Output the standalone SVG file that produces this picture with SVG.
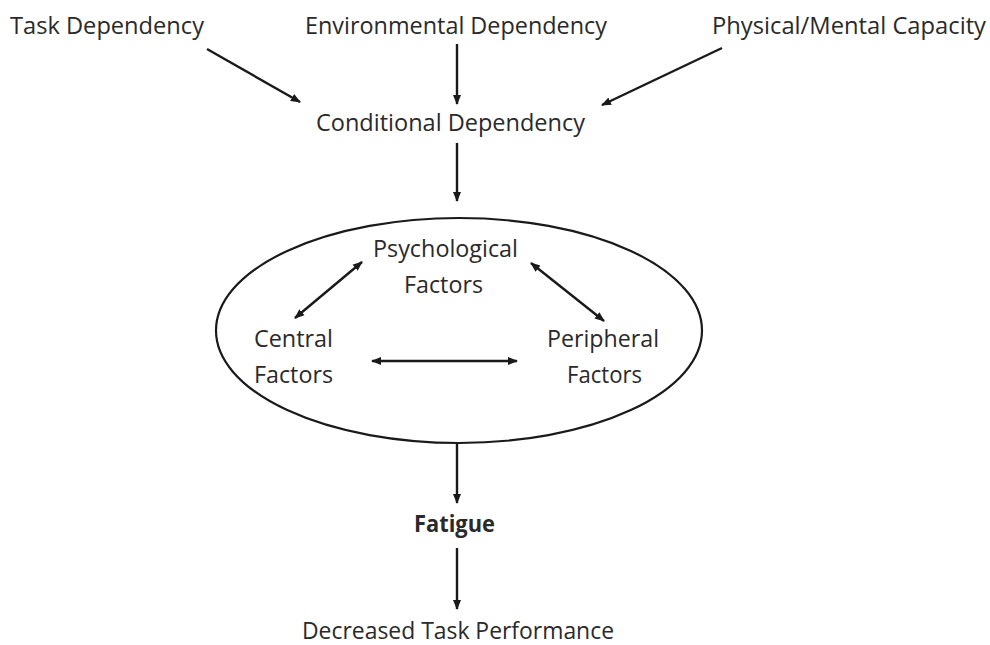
<svg xmlns="http://www.w3.org/2000/svg" width="990" height="645" viewBox="0 0 990 645">
<defs>
<marker id="ah" viewBox="0 0 10 10" refX="9" refY="5" markerWidth="10" markerHeight="10" markerUnits="userSpaceOnUse" orient="auto-start-reverse">
<path d="M0,1 L10,5 L0,9 z" fill="#1a1a1a"/>
</marker>
<style>
text{font-family:"Open Sans","Liberation Sans",sans-serif;font-size:23px;fill:#2a2a2a;}
.b{font-weight:bold;}
.c{stroke:#1a1a1a;stroke-width:2.4;fill:none;}
</style>
</defs>
<rect width="990" height="645" fill="#fff"/>
<g id="task"><text x="10" y="34" textLength="194" lengthAdjust="spacingAndGlyphs">Task Dependency</text></g>
<g id="env"><text x="305" y="34" textLength="302" lengthAdjust="spacingAndGlyphs">Environmental Dependency</text></g>
<g id="phys"><text x="712" y="34" textLength="274" lengthAdjust="spacingAndGlyphs">Physical/Mental Capacity</text></g>
<g id="cond"><text x="316" y="131" textLength="269" lengthAdjust="spacingAndGlyphs">Conditional Dependency</text></g>
<g id="ellipse"><ellipse cx="459" cy="330.5" rx="243" ry="112.5" fill="none" stroke="#1a1a1a" stroke-width="2.2"/></g>
<g id="psych"><text x="373" y="257" textLength="145" lengthAdjust="spacingAndGlyphs">Psychological</text><text x="404" y="293" textLength="79" lengthAdjust="spacingAndGlyphs">Factors</text></g>
<g id="central"><text x="254" y="347" textLength="79" lengthAdjust="spacingAndGlyphs">Central</text><text x="254" y="383" textLength="79" lengthAdjust="spacingAndGlyphs">Factors</text></g>
<g id="periph"><text x="547" y="347" textLength="112" lengthAdjust="spacingAndGlyphs">Peripheral</text><text x="567" y="383" textLength="75" lengthAdjust="spacingAndGlyphs">Factors</text></g>
<g id="fatigue"><text class="b" x="414" y="532" textLength="81" lengthAdjust="spacingAndGlyphs">Fatigue</text></g>
<g id="perf"><text x="302" y="639" textLength="312" lengthAdjust="spacingAndGlyphs">Decreased Task Performance</text></g>
<g id="connectors">
<line class="c" x1="207" y1="49" x2="300" y2="102" marker-end="url(#ah)"/>
<line class="c" x1="457" y1="44" x2="457" y2="104" marker-end="url(#ah)"/>
<line class="c" x1="722" y1="48" x2="602" y2="105" marker-end="url(#ah)"/>
<line class="c" x1="457" y1="143" x2="457" y2="201" marker-end="url(#ah)"/>
<line class="c" x1="362" y1="262" x2="295" y2="318" marker-start="url(#ah)" marker-end="url(#ah)"/>
<line class="c" x1="531" y1="263" x2="604" y2="321" marker-start="url(#ah)" marker-end="url(#ah)"/>
<line class="c" x1="372" y1="361" x2="517" y2="361" marker-start="url(#ah)" marker-end="url(#ah)"/>
<line class="c" x1="457" y1="443" x2="457" y2="503" marker-end="url(#ah)"/>
<line class="c" x1="457" y1="548" x2="457" y2="609" marker-end="url(#ah)"/>
</g>
</svg>
